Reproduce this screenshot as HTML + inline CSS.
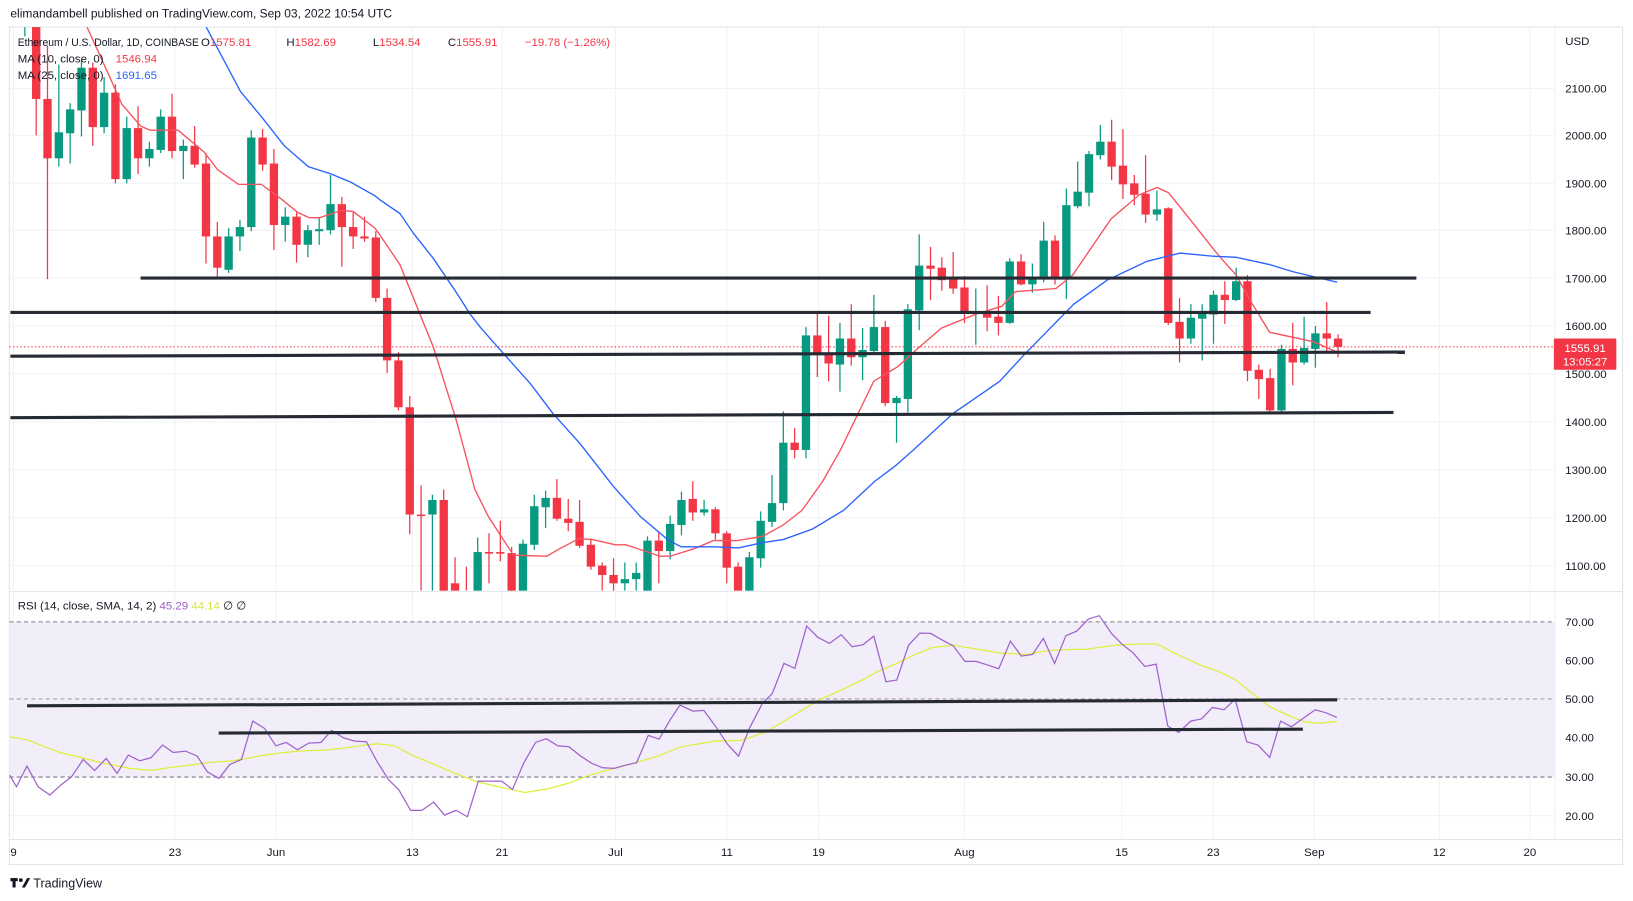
<!DOCTYPE html>
<html><head><meta charset="utf-8">
<style>
html,body{margin:0;padding:0;background:#fff;width:1633px;height:901px;overflow:hidden}
svg{display:block}
text{font-family:"Liberation Sans","DejaVu Sans",sans-serif;fill:#131722}
</style></head>
<body>
<svg id="s" width="1633" height="901" viewBox="0 0 1568 865" preserveAspectRatio="none" xmlns="http://www.w3.org/2000/svg">
<defs>
<clipPath id="mp"><rect x="9" y="26" width="1484" height="541"/></clipPath>
<clipPath id="rp"><rect x="9" y="569" width="1484" height="236"/></clipPath>
</defs>
<rect width="1568" height="865" fill="#fff"/>
<text x="10" y="17" font-size="11.5">elimandambell published on TradingView.com, Sep 03, 2022 10:54 UTC</text>
<rect x="9" y="26" width="1549" height="804" fill="none" stroke="#e0e3eb" stroke-width="1"/>
<line x1="9" y1="568" x2="1558" y2="568" stroke="#e0e3eb"/>
<line x1="9" y1="806" x2="1558" y2="806" stroke="#e0e3eb"/>
<line x1="1493" y1="26" x2="1493" y2="806" stroke="#eef0f4"/>
<g id="grid" stroke="#f0f2f6" stroke-width="1"></g>
<rect x="9" y="597" width="1484" height="149" fill="#f1eef9"/>
<g stroke="#787b86" stroke-width="1" stroke-dasharray="4,3">
<line x1="9" y1="597" x2="1493" y2="597"/>
<line x1="9" y1="671" x2="1493" y2="671" stroke="#a0a3ad"/>
<line x1="9" y1="746" x2="1493" y2="746"/>
</g>
<line x1="9" y1="333" x2="1493" y2="333" stroke="#f23645" stroke-width="1" stroke-dasharray="1.5,2"/>
<g id="candles" clip-path="url(#mp)"></g>
<g clip-path="url(#mp)" fill="none" stroke-width="1.3">
<polyline stroke="#f7525f" points="83.6,26 109,82 117,100 135,121 144,125 171,125 196,146 209,163 229,177 251,177 270,191 286,204 297,209 307,209 328,202 339,203 360,219 365,226 384,254 416,333 438,403 456,470 469,496 493,533 525,534 537,527 556,517 569,518 591,523 601,523 634,534 643,534 666,527 685,519 708,519 732,515 752,504 770,490 790,462 807,432 839,366 862,352 883,333 904,315 936,302 962,294 975,280 1014,277 1030,264 1056,226 1067,210 1094,187 1111,180 1122,185 1143,211 1165,239 1176,252 1187,264 1202,291 1219,319 1261,328 1284,338"/>
<polyline stroke="#2962ff" points="198,26 231,88 251,112 273,140 296,160 318,167 337,175 360,188 365,192 384,205 397,224 416,248 439,282 451,301 461,314 483,339 509,368 531,397 557,426 589,467 615,496 641,518 654,525 686,525 709,526 732,521 752,518 780,508 810,490 840,462 860,447 877,432 915,397 960,366 983,341 1031,292 1063,269 1101,251 1133,243 1165,246 1187,247 1219,254 1242,261 1284,271"/>
</g>
<g stroke="#262a33" stroke-width="3" stroke-linecap="butt">
<line x1="135" y1="267" x2="1360" y2="267"/>
<line x1="10" y1="300" x2="1316" y2="300"/>
<line x1="10" y1="342" x2="1349" y2="338"/>
<line x1="10" y1="401" x2="1338" y2="396"/>
</g>
<g clip-path="url(#rp)" fill="none" stroke-width="1.2">
<polyline stroke="#dfee3c" points="9.2,707.3 25,709.9 37.5,714.7 58.3,722.7 79.1,727.5 99.9,732.9 124.9,737.7 145.7,739.6 166.5,736.4 179,735.2 199.9,732 220.7,730.7 237.3,728.1 249.8,725.6 270.6,722.7 291.5,720.8 312.3,720.1 333.1,717.9 349.8,715.3 362.2,714 378.9,716 395.6,724.9 416.4,733.6 437.2,742.5 458,750.5 478.8,755.3 503.8,760.8 524.6,757.6 545.4,752.1 566.3,744.1 587.1,738.4 607.9,732.9 632.9,725.6 652.9,717.2 669.6,714.4 686.2,711.5 711.2,710.8 736.2,702.5 761.2,687.2 786.1,672.1 807,662.8 827.8,652.9 840.3,645.9 861.1,636.9 877.7,628.9 894.4,621.9 915.2,619.3 936.1,622.8 961,627 986,628.3 1002.6,625.1 1019.3,623.8 1044.3,623.2 1069.3,619.6 1090.1,618.3 1110.9,618.3 1131.7,628.9 1152.6,638.5 1169.2,644.3 1185.9,652.3 1202.5,665.7 1219.2,678.5 1240,688.1 1252.5,692.9 1265,694.5 1283.7,692.6"/>
<polyline stroke="#a062cc" points="9.2,744.1 15.8,755.3 25.8,735.5 36.6,755.3 47.9,763.3 58.3,753.7 68.7,745.7 79.9,729.1 90.8,739.7 102,728.1 112.4,742.5 123.2,724.9 134.1,730.4 144.9,727.5 156.1,715.3 166.5,722.4 178.2,721.1 189.4,725.9 199,740.9 210.3,747.3 220.7,733.9 231.9,729.1 242.7,692.3 254,699.3 264.8,716 274.8,712.8 285.6,719.8 296.5,713.4 308.1,712.8 318.5,701.2 329.8,708.3 340.6,711.5 351.8,712.1 362.2,731.3 372.7,748 383.1,758.5 394.3,778 405.1,778 416.4,770 426.8,782.5 438,778 448.8,784.1 459.3,749.9 470.5,749.9 481.7,749.9 492.1,757.9 503,732.3 514.2,712.8 524.6,709.2 535.5,716 546.3,716.9 557.1,725.6 568.4,732.9 578.8,737.1 590,737.7 600.8,734.5 611.2,732.3 622.5,706 632.9,709.6 643.3,691.3 652.9,677 665.4,682.7 675.8,682 686.2,696.1 698.7,714.7 709.1,725.9 719.5,699.3 732,675.3 741.6,665.7 752.8,636.9 763.2,641.7 774.5,601.1 785.3,611.9 796.5,617.7 807.8,609.4 818.2,620.9 828.6,619 839,610.7 850.7,654.5 861.1,652.9 872.3,619.6 883.2,607.8 893.6,608.1 904.8,614.5 915.2,620 926.5,635 937.3,635 948.5,638.5 959,642 970.2,615.5 980.6,629.9 991.4,628.3 1001.8,612.9 1012.6,636.9 1023.5,610.3 1033.9,605.9 1045.1,594.3 1055.5,591.1 1067.2,608.1 1077.6,618.7 1088,626.7 1099.2,639.8 1110.1,637.6 1121.3,697.1 1131.7,703.2 1143.4,692.3 1153.8,690.1 1164.2,679.2 1175.4,681.4 1185.9,671.2 1197.1,712.1 1207.9,715.3 1219.2,727.2 1229.6,692.3 1240,697.7 1251.2,689.7 1262.9,681.4 1273.3,684.3 1283.7,688.8"/>
</g>
<g stroke="#262a33" stroke-width="3">
<line x1="26" y1="677.6" x2="1284" y2="671.8"/>
<line x1="210" y1="703.8" x2="1251" y2="700"/>
</g>
<g font-size="11">
<text x="17" y="44" textLength="174" lengthAdjust="spacingAndGlyphs">Ethereum / U.S. Dollar, 1D, COINBASE</text>
<text x="193" y="44">O<tspan fill="#f23645">1575.81</tspan> <tspan x="275">H</tspan><tspan fill="#f23645">1582.69</tspan> <tspan x="358">L</tspan><tspan fill="#f23645">1534.54</tspan> <tspan x="430">C</tspan><tspan fill="#f23645">1555.91</tspan> <tspan x="504" fill="#f23645">−19.78 (−1.26%)</tspan></text>
<text x="17" y="60">MA (10, close, 0) <tspan x="111" fill="#f23645">1546.94</tspan></text>
<text x="17" y="76">MA (25, close, 0) <tspan x="111" fill="#2962ff">1691.65</tspan></text>
<text x="17" y="585">RSI (14, close, SMA, 14, 2) <tspan fill="#9c5ec9">45.29</tspan> <tspan fill="#d6e43a">44.14</tspan> <tspan>∅</tspan> <tspan>∅</tspan></text>
</g>
<g id="axis" font-size="11"></g>
<rect x="1492" y="325" width="60" height="30" fill="#f23645" rx="1"/>
<text x="1522" y="338" font-size="11" text-anchor="middle" style="fill:#fff">1555.91</text>
<text x="1522" y="351" font-size="11" text-anchor="middle" style="fill:#fff">13:05:27</text>
<g transform="translate(10,843)" fill="#131722">
<rect x="0" y="0" width="7" height="3"/><rect x="2" y="0" width="3" height="9"/><circle cx="10" cy="2" r="1.8"/><path d="M11 9 L16 0 L19 0 L14 9 Z"/>
</g>
<text x="32" y="852" font-size="12">TradingView</text>
<script>
(function(){
var NS="http://www.w3.org/2000/svg";
function el(p,t,a){var e=document.createElementNS(NS,t);for(var k in a)e.setAttribute(k,a[k]);p.appendChild(e);return e;}
var grid=document.getElementById('grid');
var prices=[[2100,85],[2000,130],[1900,176],[1800,221],[1700,267],[1600,313],[1500,359],[1400,405],[1300,451],[1200,497],[1100,543]];
var rsi=[[70,597],[60,634],[50,671],[40,708],[30,746],[20,783]];
prices.forEach(function(p){el(grid,'line',{x1:9,y1:p[1],x2:1493,y2:p[1]});});
[634,708,783].forEach(function(y){el(grid,'line',{x1:9,y1:y,x2:1493,y2:y});});
var dates=[['9',13],['23',168],['Jun',265],['13',396],['21',482],['Jul',591],['11',698],['19',786],['Aug',926],['15',1077],['23',1165],['Sep',1262],['12',1382],['20',1469]];
dates.forEach(function(d){el(grid,'line',{x1:d[1],y1:26,x2:d[1],y2:806});});
var ax=document.getElementById('axis');
var t=el(ax,'text',{x:1503,y:43});t.textContent='USD';
prices.forEach(function(p){var t=el(ax,'text',{x:1503,y:p[1]+4});t.textContent=p[0]+'.00';});
rsi.forEach(function(p){var t=el(ax,'text',{x:1503,y:p[1]+4});t.textContent=p[0]+'.00';});
dates.forEach(function(d){var t=el(ax,'text',{x:d[1],y:822,'text-anchor':'middle'});t.textContent=d[0];});
var C=[[1,20,0,-10,35],[2,0,95,-10,130],[3,95,152,44,268],[4,152,127,62,160],[5,128,105,99,157],[6,106,65,58,131],[7,65,122,60,140],[8,122,89,74,128],[9,89,172,81,176],[10,172,123,112,176],[11,123,152,102,167],[12,152,143,136,160],[13,144,112,105,147],[14,112,145,90,152],[15,145,140,134,172],[16,140,158,121,161],[17,157,227,147,253],[18,227,257,213,267],[19,259,227,219,262],[20,227,218,211,241],[21,218,132,125,222],[22,132,158,124,164],[23,157,216,143,240],[24,216,208,199,232],[25,208,235,204,252],[26,235,221,216,247],[27,222,220,209,235],[28,221,196,168,225],[29,196,218,189,256],[30,218,227,204,239],[31,227,229,208,232],[32,228,286,222,290],[33,286,346,277,358],[34,346,391,338,394],[35,391,494,380,513],[36,494,495,466,570],[37,494,480,475,600],[38,480,600,470,620],[39,560,575,535,600],[40,575,610,544,640],[41,570,530,516,600],[42,530,531,512,560],[43,530,531,500,539],[44,531,575,525,590],[45,575,522,518,590],[46,523,486,475,528],[47,487,478,471,507],[48,478,498,460,500],[49,498,502,479,510],[50,501,524,480,526],[51,523,544,517,547],[52,543,552,540,575],[53,552,560,536,575],[54,560,556,540,575],[55,556,550,540,575],[56,575,519,515,580],[57,519,529,510,560],[58,529,503,495,537],[59,504,480,472,514],[60,479,492,462,500],[61,492,489,480,495],[62,489,512,487,518],[63,512,545,510,560],[64,544,575,540,600],[65,575,535,530,590],[66,536,500,491,545],[67,501,483,456,506],[68,483,425,395,490],[69,425,432,411,440],[70,432,322,314,440],[71,322,341,299,362],[72,340,349,303,366],[73,350,325,310,376],[74,325,343,292,351],[75,343,336,315,365],[76,337,314,283,338],[77,314,387,308,390],[78,387,382,380,425],[79,383,297,292,396],[80,298,255,225,317],[81,255,258,237,288],[82,257,269,247,279],[83,268,277,242,282],[84,276,299,265,310],[85,299.5,299,277,331],[86,299,305,274,318],[87,304,310,284,322],[88,310,251,248,311],[89,251,273,244,274],[90,273,267,253,281],[91,268,231,213,271],[92,231,267,226,273],[93,267,197,181,287],[94,198,184,155,200],[95,185,148,145,198],[96,149,136,120,153],[97,136,160,115,173],[98,159,177,124,191],[99,176,187,168,197],[100,186,206,149,214],[101,206,201,183,212],[102,200,310,199,312],[103,309,325,286,348],[104,325,305,292,330],[105,306,300,292,346],[106,302,283,279,330],[107,283,288,270,311],[108,288,270,257,289],[109,270,356,264,366],[110,355,364,350,383],[111,363,394,354,396],[112,394,335,331,396],[113,335,348,310,370],[114,348,334,304,350],[115,335,320,313,353],[116,320,325,290,338],[117,325,333,321,343]];
var g=document.getElementById('candles');
C.forEach(function(c){
 var x=13+c[0]*10.87, o=c[1], cl=c[2], h=c[3], l=c[4];
 var up=cl<=o, col=up?'#089981':'#f23645';
 el(g,'line',{x1:x,y1:h,x2:x,y2:l,stroke:col,'stroke-width':1.2});
 var top=Math.min(o,cl), ht=Math.max(Math.abs(o-cl),1.5);
 el(g,'rect',{x:x-4,y:top,width:8,height:ht,fill:col});
});
})();
</script>
</svg>
</body></html>
